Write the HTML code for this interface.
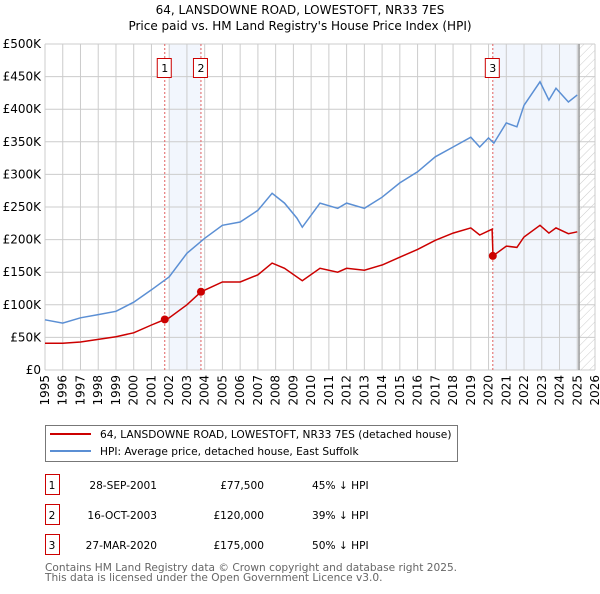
<!DOCTYPE html>
<html><head><meta charset="utf-8"><style>
body{margin:0;background:#fff;font-family:"DejaVu Sans","Liberation Sans",sans-serif;}
svg text{font-family:"DejaVu Sans","Liberation Sans",sans-serif;}
</style></head><body>
<svg id="chart" width="600" height="590" xmlns="http://www.w3.org/2000/svg">
<defs><pattern id="hatch" width="6" height="6" patternUnits="userSpaceOnUse" patternTransform="rotate(45)"><line x1="0" y1="0" x2="0" y2="6" stroke="#ccc" stroke-width="1"/></pattern></defs>
<text x="300" y="14" text-anchor="middle" font-size="12">64, LANSDOWNE ROAD, LOWESTOFT, NR33 7ES</text>
<text x="300" y="30" text-anchor="middle" font-size="12">Price paid vs. HM Land Registry's House Price Index (HPI)</text>
<g id="plot"></g>
<g>
<rect x="45.5" y="425.5" width="412" height="36" fill="#fff" stroke="#777"/>
<line x1="50" y1="434" x2="91" y2="434" stroke="#cc0000" stroke-width="2"/>
<text x="100" y="438" font-size="10.6">64, LANSDOWNE ROAD, LOWESTOFT, NR33 7ES (detached house)</text>
<line x1="50" y1="451" x2="91" y2="451" stroke="#5b8fd4" stroke-width="2"/>
<text x="100" y="455" font-size="10.6">HPI: Average price, detached house, East Suffolk</text>
</g>
<g id="table"></g>
<text x="45" y="571" font-size="10.6" fill="#666">Contains HM Land Registry data © Crown copyright and database right 2025.</text>
<text x="45" y="581" font-size="10.6" fill="#666">This data is licensed under the Open Government Licence v3.0.</text>
</svg>
<script>
const hpiYears=[1995,1996,1997,1998,1999,2000,2001,2002,2003,2004,2005,2006,2007,2007.8,2008.5,2009.2,2009.5,2010.5,2011.5,2012,2013,2014,2015,2016,2017,2018,2019,2019.5,2020,2020.3,2021,2021.6,2022,2022.9,2023.4,2023.8,2024.5,2025];
const hpiValues=[77,72,80,85,90,104,123,143,179,202,222,227,245,271,256,233,219,256,248,256,248,265,287,304,327,342,357,342,356,348,379,373,406,442,414,432,411,422];
const ppYears=[1995,1996,1997,1998,1999,2000,2001,2001.75,2002,2003,2003.8,2005,2006,2007,2007.8,2008.5,2009.5,2010.5,2011.5,2012,2013,2014,2015,2016,2017,2018,2019,2019.5,2020.2,2020.25,2021,2021.6,2022,2022.9,2023.4,2023.8,2024.5,2025];
const ppValues=[41,41,43,47,51,57,69,77.5,80,100,120,135,135,146,164,156,137,156,150,156,153,161,173,185,199,210,218,207,216,175,190,188,204,222,210,218,209,212];
const saleYears=[2001.75,2003.79,2020.24];
const saleValues=[77.5,120,175];
const saleLabels=["1","2","3"];
const saleDates=["28-SEP-2001","16-OCT-2003","27-MAR-2020"];
const salePrices=["£77,500","£120,000","£175,000"];
const saleDiffs=["45% ↓ HPI","39% ↓ HPI","50% ↓ HPI"];
const yTicks=[0,50,100,150,200,250,300,350,400,450,500];
const yTickLabels=["£0","£50K","£100K","£150K","£200K","£250K","£300K","£350K","£400K","£450K","£500K"];
const xTicks=[1995,1996,1997,1998,1999,2000,2001,2002,2003,2004,2005,2006,2007,2008,2009,2010,2011,2012,2013,2014,2015,2016,2017,2018,2019,2020,2021,2022,2023,2024,2025,2026];

const NS="http://www.w3.org/2000/svg";
const L=45,R=595,T=44,B=370;
const xs=y=>L+(y-1995)/(2026-1995)*(R-L);
const ys=v=>B-v/500*(B-T);
const plot=document.getElementById('plot');
function mk(tag,attrs,parent){const e=document.createElementNS(NS,tag);for(const k in attrs)e.setAttribute(k,attrs[k]);(parent||plot).appendChild(e);return e;}
let e=mk('rect',{x:xs(2002),y:T,width:xs(2003.79)-xs(2002),height:B-T,fill:'#f2f6fd'});

e=mk('rect',{x:xs(2020.24),y:T,width:xs(2025.1)-xs(2020.24),height:B-T,fill:'#f2f6fd'});

e=mk('rect',{x:xs(2025.1),y:T,width:R-xs(2025.1),height:B-T,fill:'url(#hatch)'});

yTicks.forEach((v,i)=>{const l=mk('line',{x1:L,x2:R,y1:ys(v),y2:ys(v),stroke:'#ccc'});

const t=mk('text',{x:L-4,y:ys(v)+4,'text-anchor':'end','font-size':12});t.textContent=yTickLabels[i];
});
xTicks.forEach(y=>{const l=mk('line',{x1:xs(y),x2:xs(y),y1:T,y2:B,stroke:'#ccc'});

const t=mk('text',{x:0,y:0,'text-anchor':'end','font-size':12,transform:`translate(${xs(y)+4},${B+5}) rotate(-90)`});t.textContent=y;
});
e=mk('line',{x1:xs(2025.1),x2:xs(2025.1),y1:T,y2:B,stroke:'#999','stroke-width':1.5});

saleYears.forEach((y,i)=>{const l=mk('line',{x1:xs(y),x2:xs(y),y1:T,y2:B,stroke:'#e06060','stroke-dasharray':'2,2'});

const r=mk('rect',{x:xs(y)-7.5,y:58.5,width:14,height:19,fill:'#fff',stroke:'#cc0000'});

const t=mk('text',{x:xs(y),y:72,'text-anchor':'middle','font-size':11});t.textContent=saleLabels[i];
});
const path=(xa,va)=>xa.map((x,i)=>(i?'L':'M')+xs(x).toFixed(1)+','+ys(va[i]).toFixed(1)).join('');
e=mk('path',{d:path(hpiYears,hpiValues),fill:'none',stroke:'#5b8fd4','stroke-width':1.5});

e=mk('path',{d:path(ppYears,ppValues),fill:'none',stroke:'#cc0000','stroke-width':1.5});

saleYears.forEach((y,i)=>{const c=mk('circle',{cx:xs(y),cy:ys(saleValues[i]),r:4,fill:'#cc0000'});
});
const tb=document.getElementById('table');
saleLabels.forEach((s,i)=>{const yy=482+i*30;
let r=mk('rect',{x:45.5,y:yy-7.5,width:14,height:20,fill:'#fff',stroke:'#cc0000'},tb);

const cells=[[52,s,'middle'],[157,saleDates[i],'end'],[264,salePrices[i],'end'],[312,saleDiffs[i],'start']];
cells.forEach((c,j)=>{const t=mk('text',{x:c[0],y:yy+7,'text-anchor':c[2],'font-size':10.6},tb);t.textContent=c[1];
});});
</script>
</body></html>
